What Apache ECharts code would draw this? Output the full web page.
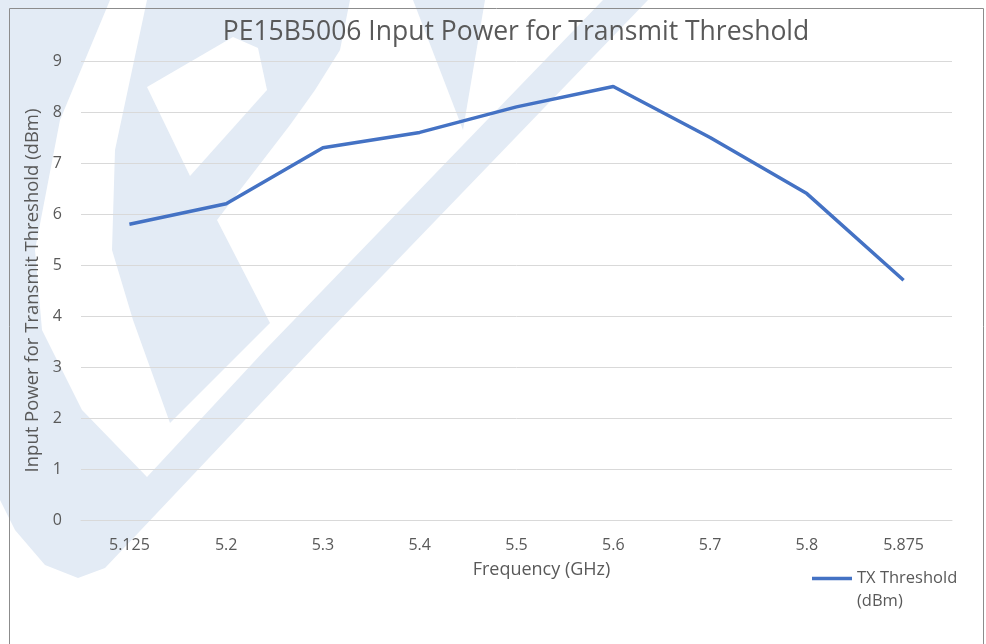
<!DOCTYPE html>
<html>
<head>
<meta charset="utf-8">
<script src="https://cdn.jsdelivr.net/npm/echarts@6/dist/echarts.min.js"></script>
<style>
html,body{margin:0;padding:0;background:#fff;}
#chart{width:986px;height:644px;}
</style>
</head>
<body>
<div id="chart"></div>
<script>
const categories = ['5.125', '5.2', '5.3', '5.4', '5.5', '5.6', '5.7', '5.8', '5.875'];
const txThreshold = [5.8, 6.2, 7.3, 7.6, 8.1, 8.5, 7.5, 6.4, 4.7];
const yMin = 0;
const yMax = 9;
const yStep = 1;
const titleText = 'PE15B5006 Input Power for Transmit Threshold';
const xName = 'Frequency (GHz)';
const yName = 'Input Power for Transmit Threshold (dBm)';
const seriesName = 'TX Threshold (dBm)';
const legendLines = ['TX Threshold', '(dBm)'];

const WM = '#e3ebf5';
const FONT = "'Open Sans', 'Noto Sans', sans-serif";
const TXT = '#595959';

const chart = echarts.init(document.getElementById('chart'), null, {renderer: 'canvas'});

const watermark = [
  {type: 'polygon', z: -5, shape: {points: [[0,0],[110,0],[60,120],[35,250],[42,330],[82,410],[147,477],[200,420],[265,350],[603,0],[648,0],[330,330],[105,568],[78,578],[45,565],[15,530],[0,500]]}, style: {fill: WM}},
  {type: 'polygon', z: -5, shape: {points: [[147,0],[350,0],[340,50],[315,90],[290,125],[217,220],[270,323],[170,423],[133,320],[112,250],[115,150]]}, style: {fill: WM}},
  {type: 'polygon', z: -4, shape: {points: [[147,87],[233,37],[258,48],[267,90],[190,176]]}, style: {fill: '#ffffff'}},
  {type: 'polygon', z: -5, shape: {points: [[413,0],[485,0],[463,130]]}, style: {fill: WM}},
  {type: 'rect', z: 10, shape: {x: 9.5, y: 8.5, width: 974, height: 700}, style: {fill: 'none', stroke: '#8c8c8c', lineWidth: 1}}
];

chart.setOption({
  backgroundColor: '#ffffff',
  animation: false,
  graphic: watermark,
  title: {
    text: titleText,
    left: 511,
    textAlign: 'center',
    top: 14,
    textStyle: {fontFamily: FONT, fontSize: 26.5, fontWeight: 'normal', color: TXT}
  },
  legend: {
    left: 812,
    top: 544,
    padding: 0,
    itemWidth: 40,
    itemHeight: 12,
    data: [{name: seriesName, icon: 'path://M0,0 L40,0 L40,3.5 L0,3.5 Z'}],
    formatter: function () { return ' \n' + legendLines.join('\n'); },
    textStyle: {fontFamily: FONT, fontSize: 16.5, color: TXT, lineHeight: 23}
  },
  grid: {left: 81, right: 34, top: 61, bottom: 124, containLabel: false},
  xAxis: {
    type: 'category',
    z: 1,
    data: categories,
    boundaryGap: true,
    name: xName,
    nameLocation: 'middle',
    nameGap: 41,
    nameTextStyle: {fontFamily: FONT, fontSize: 18, color: TXT, padding: [0, 0, 0, 50]},
    axisLine: {show: true, lineStyle: {color: '#d9d9d9', width: 1}},
    axisTick: {show: false},
    axisLabel: {fontFamily: FONT, fontSize: 16, color: TXT, margin: 17},
    splitLine: {show: false}
  },
  yAxis: {
    type: 'value',
    z: 1,
    min: yMin,
    max: yMax,
    interval: yStep,
    name: yName,
    nameLocation: 'middle',
    nameGap: 37,
    nameTextStyle: {fontFamily: FONT, fontSize: 18.5, color: TXT},
    axisLine: {show: false},
    axisTick: {show: false},
    axisLabel: {fontFamily: FONT, fontSize: 16, color: TXT, margin: 19},
    splitLine: {show: true, lineStyle: {color: '#d9d9d9', width: 1}}
  },
  series: [{
    name: seriesName,
    type: 'line',
    data: txThreshold,
    symbol: 'none',
    smooth: false,
    lineStyle: {color: '#4472c4', width: 3.5},
    itemStyle: {color: '#4472c4'}
  }]
});
</script>
</body>
</html>
